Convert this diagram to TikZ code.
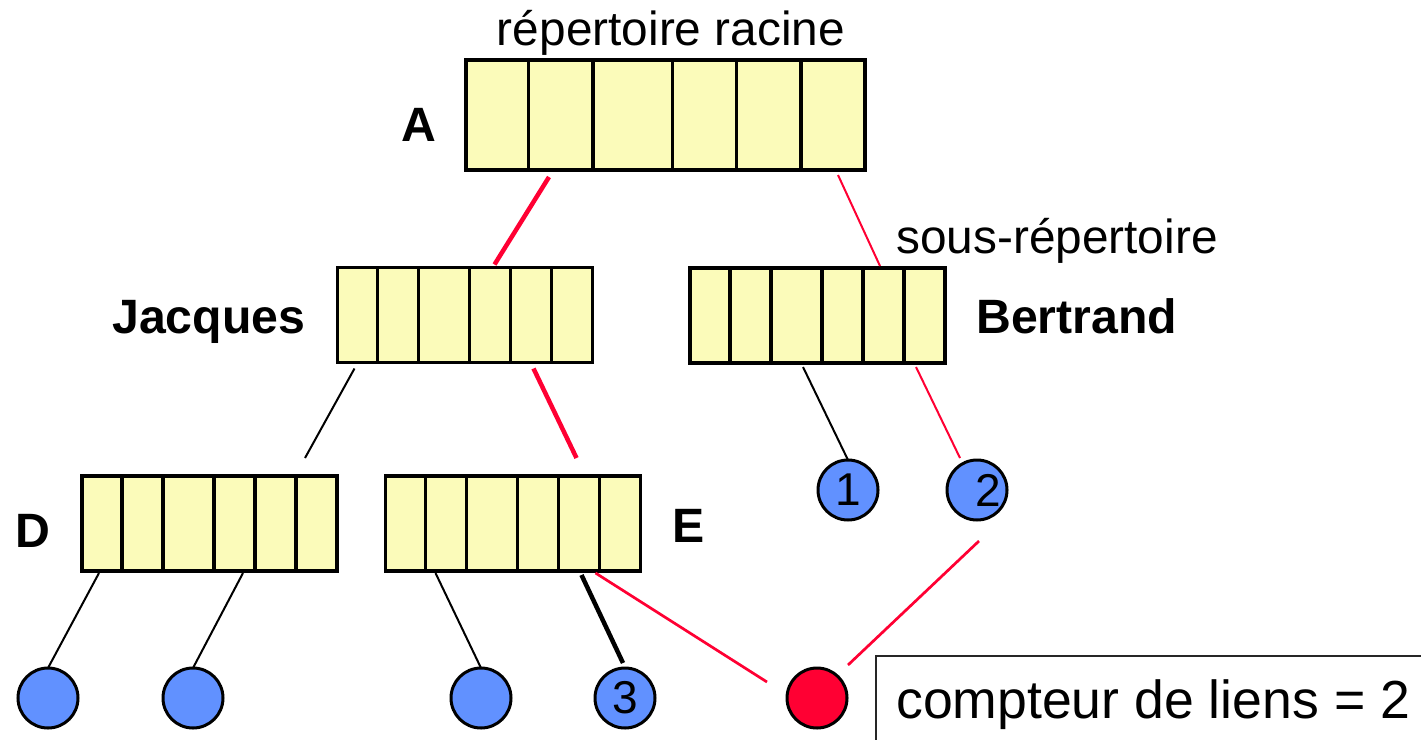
\documentclass[tikz,border=0pt]{standalone}
\usepackage{fontspec}
\setmainfont{Liberation Sans}
\usepackage{tikz}
\usetikzlibrary{arrows.meta,positioning,calc}
\definecolor{DirYellow}{HTML}{FBFBBA}
\definecolor{FileBlue}{HTML}{6191FF}
\definecolor{LinkRed}{HTML}{FF0033}

% cell separators of a directory block
\newcommand{\dircells}[1]{%
  \foreach \x in {0.157,0.318,0.518,0.678,0.839}
    \draw[line width=3.5pt] ($(#1.north west)!\x!(#1.north east)$)
      -- ($(#1.south west)!\x!(#1.south east)$);}

\tikzset{
  dirbox/.style={draw,line width=3.5pt,fill=DirYellow,inner sep=0pt,outer sep=0pt,
    minimum width=255pt,minimum height=95pt},
  file/.style={circle,draw,line width=3pt,fill=FileBlue,inner sep=0pt,outer sep=0pt,
    minimum size=60pt,font=\fontsize{46}{50}\selectfont},
  lbl/.style={inner sep=0pt,font=\fontsize{47.8}{57}\selectfont},
  boldlbl/.style={inner sep=0pt,font=\fontsize{48.2}{57}\selectfont\bfseries},
  linkthin/.style={line width=2pt},
  linkmid/.style={line width=2.7pt},
  linkthick/.style={line width=4.5pt},
}

\begin{document}
\begin{tikzpicture}[x=1pt,y=-1pt,>=Latex]
  \useasboundingbox (0,0) rectangle (1421,739);

  % directories
  \node[dirbox,minimum width=399pt,minimum height=110pt] (A) at (665.5,115) {};
  \node[dirbox] (J) at (465,315) {};
  \node[dirbox] (B) at (817.5,315.5) {};
  \node[dirbox] (D) at (209.5,523.5) {};
  \node[dirbox] (E) at (513,523.5) {};
  \dircells{A}
  \dircells{J}
  \dircells{B}
  \dircells{D}
  \dircells{E}

  % files
  \node[file] (d1) at (48,698) {};
  \node[file] (d2) at (193,698) {};
  \node[file] (e1) at (481,698) {};
  \node[file] (e2) at (625,698) {3};
  \node[file] (b1) at (848,490) {1};
  \node[file] (b2) at (977,490) {};
  \node[inner sep=0pt,font=\fontsize{46}{50}\selectfont] (b2num)
    at ([xshift=11pt]b2.center) {2};
  \node[file,fill=LinkRed] (lien) at (817,698) {};

  % links
  \draw[LinkRed,linkthick] ([shift={(83,7)}]A.south west)
    -- ([shift={(157,-3)}]J.north west);
  \draw[LinkRed,linkthin] ([shift={(372,5)}]A.south west)
    -- ([shift={(190,-2)}]B.north west);
  \draw[linkthin] ([shift={(17,6)}]J.south west)
    -- ([shift={(223,-18)}]D.north west);
  \draw[LinkRed,linkthick] ([shift={(196,6)}]J.south west)
    -- ([shift={(191,-18)}]E.north west);
  \draw[linkthin] ([shift={(113,4)}]B.south west) -- (b1.north);
  \draw[LinkRed,linkthin] ([shift={(226,4)}]B.south west)
    -- ([shift={(-17,-32)}]b2.center);
  \draw[linkthin] ([shift={(17,2)}]D.south west) -- (d1.north);
  \draw[linkthin] ([shift={(161,2)}]D.south west) -- (d2.north);
  \draw[linkthin] ([shift={(50,2)}]E.south west) -- (e1.north);
  \draw[linkthick] ([shift={(196,4)}]E.south west)
    -- ([shift={(-2,-35)}]e2.center);
  \draw[LinkRed,linkmid] ([shift={(210,2)}]E.south west)
    -- ([shift={(-50,-16)}]lien.center);
  \draw[LinkRed,linkmid] ([shift={(2,21)}]b2.south)
    -- ([shift={(31,-33)}]lien.center);

  % labels
  \node[lbl,anchor=base] (racine) at (671,45) {répertoire racine};
  \node[lbl,anchor=base west] (sous) at (896,253) {sous-répertoire};
  \node[boldlbl,anchor=base west] (nomA) at (401,141) {A};
  \node[boldlbl,anchor=base west] (nomJ) at (112,333) {Jacques};
  \node[boldlbl,anchor=base west] (nomB) at (976,333) {Bertrand};
  \node[boldlbl,anchor=base west] (nomD) at (15,547) {D};
  \node[boldlbl,anchor=base west] (nomE) at (672,542) {E};

  % link counter
  \draw[line width=2.5pt,black!85] (876,760) |- (1440,656);
  \node[inner sep=0pt,anchor=base west,font=\fontsize{53.6}{60}\selectfont]
    (compteur) at (896,718) {compteur de liens = 2};
\end{tikzpicture}
\end{document}
